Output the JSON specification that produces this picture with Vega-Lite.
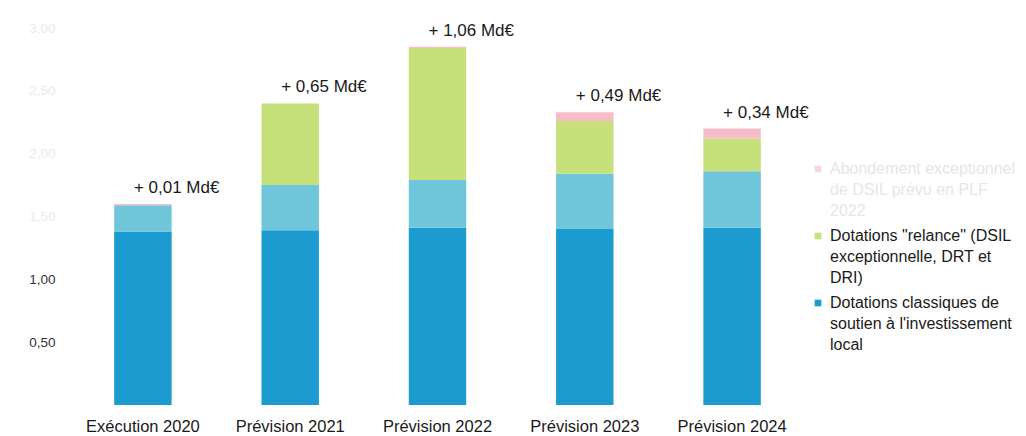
{
  "$schema": "https://vega.github.io/schema/vega-lite/v6.json",
  "autosize": {"type": "none"},
  "padding": {"left": 70, "top": 28, "right": 221, "bottom": 31},
  "width": 735,
  "height": 377,
  "background": "white",
  "config": {
    "font": "Liberation Sans",
    "view": {"stroke": null}
  },
  "data": {
    "values": [
      {"periode": "Exécution 2020", "serie": "classique", "montant": 1.38},
      {"periode": "Exécution 2020", "serie": "complement", "montant": 0.21},
      {"periode": "Exécution 2020", "serie": "relance", "montant": 0.0},
      {"periode": "Exécution 2020", "serie": "abondement", "montant": 0.01},
      {"periode": "Prévision 2021", "serie": "classique", "montant": 1.39},
      {"periode": "Prévision 2021", "serie": "complement", "montant": 0.36},
      {"periode": "Prévision 2021", "serie": "relance", "montant": 0.65},
      {"periode": "Prévision 2021", "serie": "abondement", "montant": 0.0},
      {"periode": "Prévision 2022", "serie": "classique", "montant": 1.41},
      {"periode": "Prévision 2022", "serie": "complement", "montant": 0.38},
      {"periode": "Prévision 2022", "serie": "relance", "montant": 1.05},
      {"periode": "Prévision 2022", "serie": "abondement", "montant": 0.01},
      {"periode": "Prévision 2023", "serie": "classique", "montant": 1.40},
      {"periode": "Prévision 2023", "serie": "complement", "montant": 0.44},
      {"periode": "Prévision 2023", "serie": "relance", "montant": 0.42},
      {"periode": "Prévision 2023", "serie": "abondement", "montant": 0.07},
      {"periode": "Prévision 2024", "serie": "classique", "montant": 1.41},
      {"periode": "Prévision 2024", "serie": "complement", "montant": 0.45},
      {"periode": "Prévision 2024", "serie": "relance", "montant": 0.26},
      {"periode": "Prévision 2024", "serie": "abondement", "montant": 0.08}
    ]
  },
  "encoding": {
    "x": {
      "field": "periode",
      "type": "nominal",
      "sort": null,
      "scale": {"paddingInner": 0.61, "paddingOuter": 0.3},
      "axis": {
        "title": null,
        "labelAngle": 0,
        "ticks": false,
        "domain": false,
        "labelFontSize": 16.5,
        "labelColor": "#1a1a1a",
        "labelPadding": 13
      }
    }
  },
  "layer": [
    {
      "mark": {"type": "bar"},
      "transform": [
        {"calculate": "indexof(['classique','complement','relance','abondement'], datum.serie)", "as": "rang"}
      ],
      "encoding": {
        "y": {
          "field": "montant",
          "type": "quantitative",
          "stack": "zero",
          "scale": {"domain": [0, 3], "nice": false},
          "axis": {
            "title": null,
            "values": [0.5, 1, 1.5, 2, 2.5, 3],
            "labelExpr": "replace(format(datum.value, '.2f'), '.', ',')",
            "grid": false,
            "ticks": false,
            "domain": false,
            "labelFontSize": 13.5,
            "labelPadding": 15,
            "labelColor": {"condition": {"test": "datum.value > 1.2", "value": "#ebebeb"}, "value": "#333333"}
          }
        },
        "order": {"field": "rang", "type": "quantitative", "sort": "ascending"},
        "color": {
          "field": "serie",
          "type": "nominal",
          "scale": {
            "domain": ["classique", "complement", "relance", "abondement"],
            "range": ["#1c9bd1", "#6fc5da", "#c6e07a", "#f6bcc8"]
          },
          "legend": {
            "values": ["abondement", "relance", "classique"],
            "orient": "none",
            "legendX": 740,
            "legendY": 133,
            "title": null,
            "symbolType": "square",
            "symbolSize": 45,
            "labelFontSize": 16,
            "labelColor": "#1a1a1a",
            "labelOffset": 4,
            "rowPadding": 9,
            "labelLimit": 300,
            "labelBaseline": "middle",
            "labelExpr": "datum.value === 'abondement' ? ['Abondement exceptionnel', 'de DSIL prévu en PLF', '2022'] : datum.value === 'relance' ? ['Dotations \"relance\" (DSIL', 'exceptionnelle, DRT et', 'DRI)'] : ['Dotations classiques de', 'soutien à l\\'investissement', 'local']",
            "encode": {
              "labels": {"update": {
                "lineHeight": {"value": 21},
                "fill": {"signal": "datum.value === 'abondement' ? '#e6e6e6' : '#1a1a1a'"}
              }},
              "symbols": {"update": {"opacity": {"signal": "datum.value === 'abondement' ? 0.6 : 1"}}}
            }
          }
        }
      }
    },
    {
      "mark": {"type": "text", "align": "left", "baseline": "bottom", "dx": -9, "dy": -7, "fontSize": 17, "color": "#1a1a1a"},
      "transform": [
        {"calculate": "datum.serie === 'relance' || datum.serie === 'abondement' ? datum.montant : 0", "as": "ajout"},
        {"aggregate": [{"op": "sum", "field": "montant", "as": "total"}, {"op": "sum", "field": "ajout", "as": "hausse"}], "groupby": ["periode"]},
        {"calculate": "'+ ' + replace(format(datum.hausse, '.2f'), '.', ',') + ' Md€'", "as": "etiquette"}
      ],
      "encoding": {
        "y": {"field": "total", "type": "quantitative"},
        "text": {"field": "etiquette"}
      }
    }
  ]
}
